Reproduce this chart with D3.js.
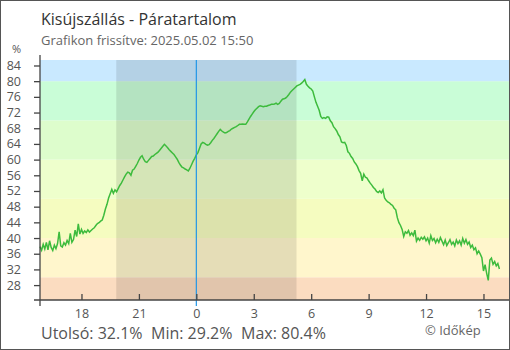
<!DOCTYPE html>
<html>
<head>
<meta charset="utf-8">
<script src="https://cdn.jsdelivr.net/npm/d3@7"></script>
<style>
html,body{margin:0;padding:0;background:#fff;}
svg{display:block;font-family:"Open Sans",sans-serif;}
</style>
</head>
<body>
<div id="chart"></div>
<script>
const titleText = "Kisújszállás - Páratartalom";
const subtitleText = "Grafikon frissítve: 2025.05.02 15:50";
const unitLabel = "%";
const footerParts = ["Utolsó: 32.1%", "Min: 29.2%", "Max: 80.4%"];
const creditText = "© Időkép";

const startTime = "2025-05-01T15:50:00";
const stepMinutes = 5;
const humidity = [
37.8,36.9,38.4,37.2,38.9,37.0,39.3,37.6,36.8,38.2,
37.3,38.6,41.6,38.0,37.7,38.8,38.2,39.4,38.6,41.2,
38.9,39.6,42.0,40.4,43.6,41.0,42.2,41.2,41.8,41.4,
42.1,41.5,41.9,42.3,42.6,43.2,43.7,43.9,44.3,44.6,
45.8,47.4,48.6,50.2,51.3,52.4,51.4,52.3,51.8,52.6,
53.4,54.0,54.8,55.6,56.3,56.8,56.6,56.0,57.3,57.6,
58.3,59.0,59.9,60.6,61.0,60.1,59.5,59.3,59.8,60.3,
60.8,60.9,61.3,61.6,61.9,62.4,62.9,63.4,63.9,63.5,
63.0,62.5,62.1,61.7,61.3,60.7,60.1,59.3,58.6,58.1,
57.9,57.6,57.4,57.1,57.8,58.7,59.6,60.3,61.2,61.8,
62.9,64.0,64.4,64.2,63.9,63.7,63.8,64.3,64.9,65.4,
66.0,66.6,67.2,67.7,67.3,67.0,66.8,66.9,67.2,67.4,
67.8,68.0,68.2,68.4,68.7,69.0,69.0,69.1,69.0,69.0,
69.6,70.3,71.0,71.6,72.2,72.7,73.1,73.5,73.7,73.6,
73.5,73.6,73.6,73.8,73.9,74.1,74.1,74.2,74.4,74.1,
74.3,74.9,75.4,75.5,75.7,76.1,76.6,77.2,77.6,78.0,
78.4,78.8,79.0,79.2,79.5,79.9,80.4,79.2,78.7,78.3,
78.0,77.5,76.0,74.6,73.6,72.6,71.0,70.5,70.7,70.5,
70.9,70.8,69.9,69.4,68.4,67.9,67.3,66.4,65.8,64.5,
64.3,64.4,63.6,62.0,61.6,60.8,60.3,59.4,58.9,58.2,
57.2,56.5,54.6,56.3,55.5,55.3,54.6,54.0,53.5,52.9,
52.5,51.9,51.6,52.0,51.5,52.3,50.2,49.6,49.2,49.0,
48.6,48.3,47.6,47.2,45.2,43.9,43.2,42.2,40.4,41.6,
41.2,41.9,40.7,41.3,40.6,42.0,39.2,40.0,39.4,40.2,
39.7,40.3,39.3,40.0,38.7,40.6,39.4,39.9,38.8,39.7,
38.9,40.1,39.2,38.3,39.5,38.1,38.8,39.6,38.4,39.0,
38.0,39.5,38.6,39.3,38.2,39.9,38.7,39.6,38.4,39.0,
37.6,38.2,37.0,37.5,36.0,36.7,35.9,35.0,31.6,33.2,
31.0,29.2,34.4,34.9,33.3,34.0,32.9,33.5,32.1
];

const yTicks = [28,32,36,40,44,48,52,56,60,64,68,72,76,80,84];
const xTickTimes = ["2025-05-01T18:00","2025-05-01T21:00","2025-05-02T00:00","2025-05-02T03:00","2025-05-02T06:00","2025-05-02T09:00","2025-05-02T12:00","2025-05-02T15:00"];
const xTickLabels = ["18","21","0","3","6","9","12","15"];
const bandBreaks = [30,40,50,60,70,80];
const bandColors = ["#fbdcc0","#fff6cc","#f5fcc0","#eeffcc","#ddfdcc","#c9fdd7","#c9e9ff"];
const nightStart = "2025-05-01T19:49";
const nightEnd = "2025-05-02T05:14";
const midnight = "2025-05-02T00:00";

const W = 510, H = 350;
const m = {left:40, right:1, top:60, bottom:50};
const parse = s => new Date(s);
const t0 = parse(startTime);
const data = humidity.map((v,i)=>({t:new Date(t0.getTime()+i*stepMinutes*60000), v}));
const yMin = d3.min(humidity)-5, yMax = d3.max(humidity)+5;

const x = d3.scaleTime()
  .domain([t0, new Date(t0.getTime()+24.5*3600000)])
  .range([m.left, W-m.right]);
const y = d3.scaleLinear().domain([yMin,yMax]).range([H-m.bottom, m.top]);

const svg = d3.select("#chart").append("svg").attr("width",W).attr("height",H);

// bands
const edges = [yMin, ...bandBreaks, yMax];
svg.append("g").selectAll("rect").data(bandColors).join("rect")
  .attr("x", m.left).attr("width", W-m.right-m.left)
  .attr("y",(d,i)=>y(edges[i+1])).attr("height",(d,i)=>y(edges[i])-y(edges[i+1]))
  .attr("fill",d=>d);

// night shading
svg.append("rect")
  .attr("x", x(parse(nightStart))).attr("width", x(parse(nightEnd))-x(parse(nightStart)))
  .attr("y", m.top).attr("height", H-m.bottom-m.top)
  .attr("fill","rgba(0,0,0,0.1)");

// line
svg.append("path").datum(data)
  .attr("fill","none").attr("stroke","#3dbb3d").attr("stroke-width",1.5)
  .attr("d", d3.line().x(d=>x(d.t)).y(d=>y(d.v)));

// midnight line
svg.append("line")
  .attr("x1", x(parse(midnight))).attr("x2", x(parse(midnight)))
  .attr("y1", m.top).attr("y2", H-m.bottom+6)
  .attr("stroke","#2196e8").attr("stroke-width",1.2);

// y axis
const ya = svg.append("g").attr("transform",`translate(${m.left},0)`)
  .call(d3.axisLeft(y).tickValues(yTicks).tickSize(6).tickPadding(13));
ya.select(".domain").attr("d",`M0,${m.top-5}V${H-m.bottom+6}`).attr("stroke","#444").attr("stroke-width",1.3);
ya.selectAll(".tick line").attr("stroke","#444").attr("stroke-width",1.3);
ya.selectAll("text").attr("fill","#555").style("font-size","12.5px").style("font-family","Open Sans");

// x axis
const xa = svg.append("g").attr("transform",`translate(0,${H-m.bottom})`)
  .call(d3.axisBottom(x).tickValues(xTickTimes.map(parse)).tickFormat((d,i)=>xTickLabels[i]).tickSize(-6).tickPadding(9));
xa.select(".domain").attr("d",`M${m.left-6},0H${W}`).attr("stroke","#444").attr("stroke-width",1.3);
xa.selectAll(".tick line").attr("stroke","#444").attr("stroke-width",1.3);
xa.selectAll("text").attr("fill","#555").style("font-size","12.5px").style("font-family","Open Sans");

// texts
svg.append("text").attr("x",41).attr("y",25).text(titleText)
  .attr("fill","#333").style("font-size","16px");
svg.append("text").attr("x",41).attr("y",45).text(subtitleText)
  .attr("fill","#666").style("font-size","13px");
svg.append("text").attr("x",21).attr("y",53).attr("text-anchor","end").text(unitLabel)
  .attr("fill","#555").style("font-size","11px");
const footerX = [41, 151, 241];
svg.append("g").selectAll("text").data(footerParts).join("text")
  .attr("x",(d,i)=>footerX[i]).attr("y",339).text(d=>d)
  .attr("fill","#555").style("font-size","16px");
svg.append("text").attr("x",425).attr("y",335).text(creditText)
  .attr("fill","#666").style("font-size","13px");

// frame
svg.append("rect").attr("x",0.5).attr("y",0.5).attr("width",W-1).attr("height",H-1)
  .attr("fill","none").attr("stroke","#555").attr("stroke-width",1);
</script>
</body>
</html>
